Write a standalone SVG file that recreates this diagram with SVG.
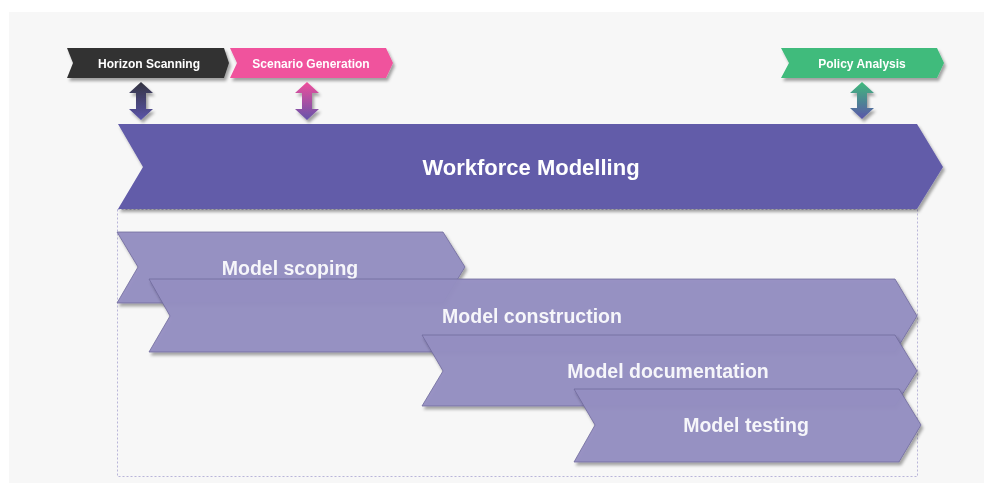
<svg xmlns="http://www.w3.org/2000/svg" width="984" height="483" viewBox="0 0 984 483">
  <defs>
    <filter id="shadow" x="-5%" y="-20%" width="115%" height="150%">
      <feDropShadow dx="2" dy="3" stdDeviation="1.8" flood-color="#000" flood-opacity="0.35"/>
    </filter>
    <linearGradient id="gHorizon" x1="0" y1="0" x2="0" y2="1">
      <stop offset="0" stop-color="#333340"/>
      <stop offset="1" stop-color="#5b55aa"/>
    </linearGradient>
    <linearGradient id="gScenario" x1="0" y1="0" x2="0" y2="1">
      <stop offset="0" stop-color="#f0509c"/>
      <stop offset="1" stop-color="#6552aa"/>
    </linearGradient>
    <linearGradient id="gPolicy" x1="0" y1="0" x2="0" y2="1">
      <stop offset="0" stop-color="#3fbb7b"/>
      <stop offset="1" stop-color="#5b55aa"/>
    </linearGradient>
  </defs>
  <style>
    .small { font-family: "Liberation Sans", Arial, sans-serif; font-weight: bold; font-size: 12px; fill: #ffffff; text-anchor: middle; }
    .big { font-family: "Liberation Sans", Arial, sans-serif; font-weight: bold; font-size: 22px; fill: #ffffff; text-anchor: middle; }
    .mid { font-family: "Liberation Sans", Arial, sans-serif; font-weight: bold; font-size: 19.5px; fill: #f6f6fa; text-anchor: middle; }
    .sub { fill: #958fc2; fill-opacity: 0.96; stroke: #6f6a9c; stroke-width: 0.8; }
    .dbl { stroke: none; }
  </style>

  <rect x="9" y="12" width="975" height="471" fill="#f7f7f7"/>

  <rect id="frame" x="117.5" y="209.5" width="800" height="267" fill="none" stroke="#b9b5d9" stroke-width="1" stroke-dasharray="2,2"/>

  <g id="horizon" filter="url(#shadow)">
    <path d="M67,48 L224,48 L229,63 L224,78 L67,78 L73,63 Z" fill="#333333"/>
    <text class="small" x="149" y="67.5">Horizon Scanning</text>
  </g>
  <g id="scenario" filter="url(#shadow)">
    <path d="M230,48 L386,48 L393,63 L386,78 L230,78 L237,63 Z" fill="#f0529d"/>
    <text class="small" x="311" y="67.5">Scenario Generation</text>
  </g>
  <g id="policy" filter="url(#shadow)">
    <path d="M781,48 L937,48 L944,63 L937,78 L781,78 L789,63 Z" fill="#3fbb7b"/>
    <text class="small" x="862" y="67.5">Policy Analysis</text>
  </g>

  <g id="workforce" filter="url(#shadow)">
    <path d="M118,124 L917,124 L943,167 L917,209 L118,209 L143,167 Z" fill="#625ca9"/>
    <text class="big" x="531" y="175">Workforce Modelling</text>
  </g>

  <g id="scoping" filter="url(#shadow)">
    <path class="sub" d="M117,232 L443,232 L465,267 L443,303 L117,303 L138,267 Z"/>
    <text class="mid" x="290" y="275">Model scoping</text>
  </g>
  <g id="construction" filter="url(#shadow)">
    <path class="sub" d="M149,279 L895,279 L917,316 L895,352 L149,352 L170,316 Z"/>
    <text class="mid" x="532" y="323">Model construction</text>
  </g>
  <g id="documentation" filter="url(#shadow)">
    <path class="sub" d="M422,335 L895,335 L917,371 L895,406 L422,406 L443,371 Z"/>
    <text class="mid" x="668" y="378">Model documentation</text>
  </g>
  <g id="testing" filter="url(#shadow)">
    <path class="sub" d="M574,389 L899,389 L921,425 L899,462 L574,462 L595,425 Z"/>
    <text class="mid" x="746" y="432">Model testing</text>
  </g>

  <g id="connectors" filter="url(#shadow)">
    <path class="dbl" fill="url(#gHorizon)" d="M141,82 L153,93 L146,93 L146,109 L153,109 L141,120 L129,109 L136,109 L136,93 L129,93 Z"/>
    <path class="dbl" fill="url(#gScenario)" d="M307,82 L319,93 L312,93 L312,109 L319,109 L307,120 L295,109 L302,109 L302,93 L295,93 Z"/>
    <path class="dbl" fill="url(#gPolicy)" d="M862,82 L874,93 L867,93 L867,108 L874,108 L862,119 L850,108 L857,108 L857,93 L850,93 Z"/>
  </g>
</svg>
